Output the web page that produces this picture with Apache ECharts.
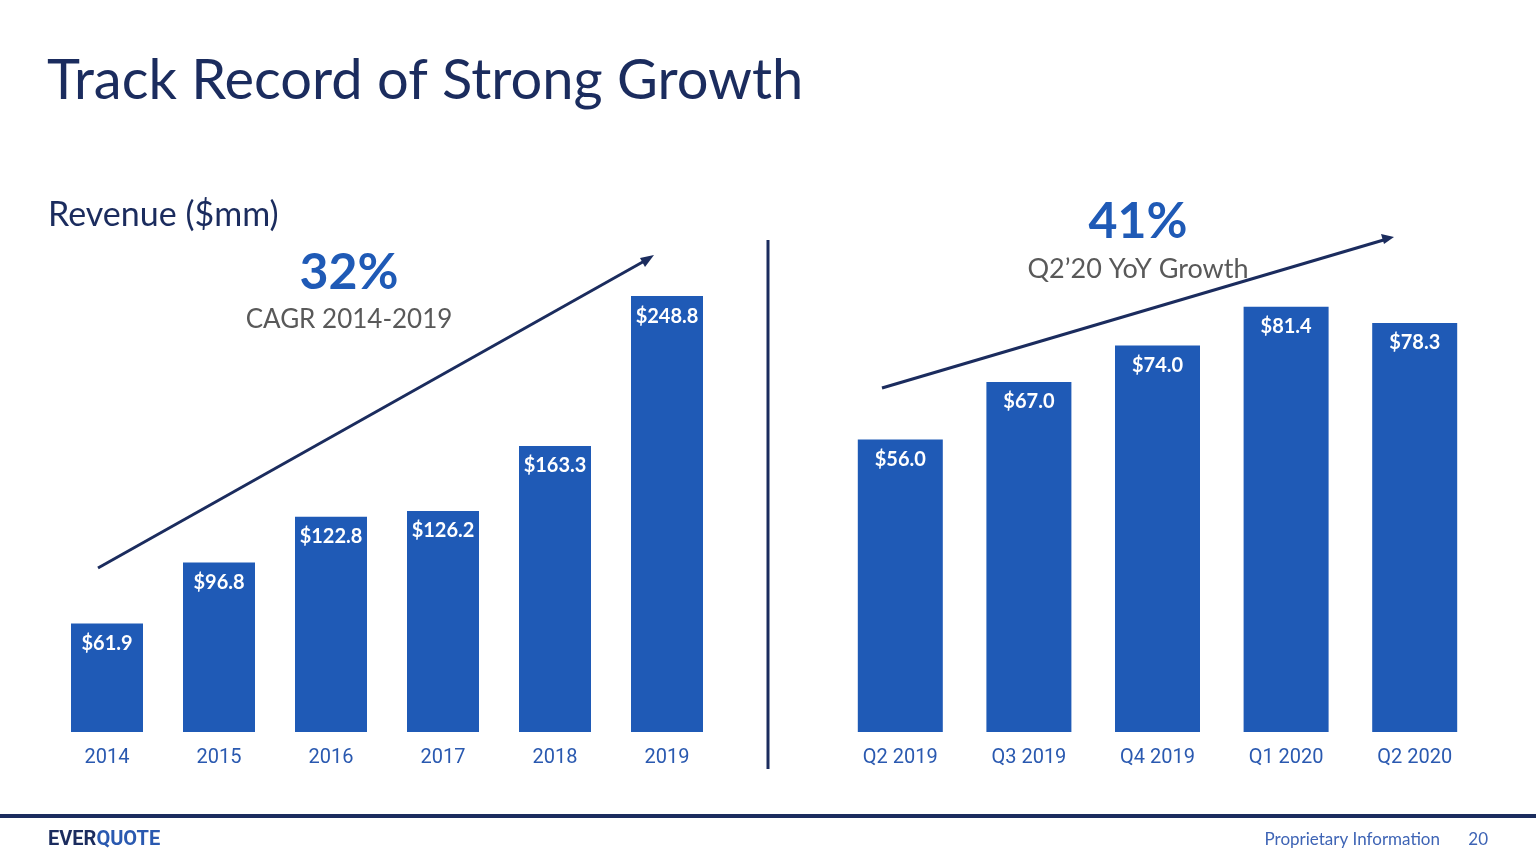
<!DOCTYPE html>
<html>
<head>
<meta charset="utf-8">
<script src="https://cdn.jsdelivr.net/npm/echarts@6/dist/echarts.min.js"></script>
<style>
  html, body { margin: 0; padding: 0; background: #fff; }
  #myChart { width: 1536px; height: 864px; }
</style>
</head>
<body>
<div id="myChart"></div>
<script>
// annual revenue ($mm)
var years = ['2014', '2015', '2016', '2017', '2018', '2019'];
var annualRevenue = [61.9, 96.8, 122.8, 126.2, 163.3, 248.8];
// quarterly revenue ($mm)
var quarters = ['Q2 2019', 'Q3 2019', 'Q4 2019', 'Q1 2020', 'Q2 2020'];
var quarterRevenue = [56.0, 67.0, 74.0, 81.4, 78.3];

var navy = '#1b2c5e';
var blue = '#1f5ab6';

var labelStyle = {
    show: true,
    position: 'insideTop',
    distance: 10,
    color: '#fff',
    fontFamily: 'Lato',
    fontWeight: 'bold',
    fontSize: 20,
    formatter: function (p) { return '$' + p.value.toFixed(1); }
};
var xLabel = { color: '#2a59b0', fontFamily: 'Roboto', fontSize: 20, margin: 16 };

var option = {
    animation: false,
    grid: [
        { left: 51, right: 813, top: 294, bottom: 132 },
        { left: 836, right: 57, top: 288, bottom: 132 }
    ],
    xAxis: [
        { type: 'category', gridIndex: 0, data: years, axisLine: { show: false }, axisTick: { show: false }, axisLabel: xLabel },
        { type: 'category', gridIndex: 1, data: quarters, axisLine: { show: false }, axisTick: { show: false }, axisLabel: xLabel }
    ],
    yAxis: [
        { type: 'value', gridIndex: 0, min: 0, max: 250, show: false, splitLine: { show: false } },
        { type: 'value', gridIndex: 1, min: 0, max: 85, show: false, splitLine: { show: false } }
    ],
    series: [
        { type: 'bar', xAxisIndex: 0, yAxisIndex: 0, data: annualRevenue, barWidth: 72, itemStyle: { color: blue }, label: labelStyle },
        { type: 'bar', xAxisIndex: 1, yAxisIndex: 1, data: quarterRevenue, barWidth: 85, itemStyle: { color: blue }, label: labelStyle }
    ],
    graphic: [
        { type: 'text', left: 47, top: 53, style: { text: 'Track Record of Strong Growth', fill: navy, font: '400 56px Lato' } },
        { type: 'text', left: 48, top: 198, style: { text: 'Revenue ($mm)', fill: navy, font: '400 34px Lato' } },
        { type: 'text', x: 349, y: 273, style: { text: '32%', fill: blue, font: 'bold 50px Lato', align: 'center', verticalAlign: 'middle' } },
        { type: 'text', x: 349, y: 320, style: { text: 'CAGR 2014-2019', fill: '#595959', font: '400 26px Lato', align: 'center', verticalAlign: 'middle' } },
        { type: 'text', x: 1138, y: 222, style: { text: '41%', fill: blue, font: 'bold 50px Lato', align: 'center', verticalAlign: 'middle' } },
        { type: 'text', x: 1138, y: 269, style: { text: 'Q2\u201920 YoY Growth', fill: '#595959', font: '400 27px Lato', align: 'center', verticalAlign: 'middle' } },
        // trend arrows
        { type: 'line', shape: { x1: 98, y1: 568, x2: 648, y2: 259 }, style: { stroke: navy, lineWidth: 3 } },
        { type: 'polygon', shape: { points: [[654, 255], [640, 258], [645, 267]] }, style: { fill: navy } },
        { type: 'line', shape: { x1: 882, y1: 388, x2: 1387, y2: 239 }, style: { stroke: navy, lineWidth: 3 } },
        { type: 'polygon', shape: { points: [[1394, 237], [1381, 234], [1384, 244]] }, style: { fill: navy } },
        // divider
        { type: 'line', shape: { x1: 768, y1: 240, x2: 768, y2: 769 }, style: { stroke: navy, lineWidth: 3 } },
        // footer
        { type: 'rect', shape: { x: 0, y: 814, width: 1536, height: 4 }, style: { fill: navy } },
        { type: 'text', left: 48, top: 830, style: { rich: { a: { fill: navy, font: 'bold 20px Roboto' }, b: { fill: '#2a59b0', font: 'bold 20px Roboto' } }, text: '{a|EVER}{b|QUOTE}' } },
        { type: 'text', right: 96, top: 831, style: { text: 'Proprietary Information', fill: '#3e64b5', font: '400 17px Lato' } },
        { type: 'text', right: 48, top: 831, style: { text: '20', fill: '#3e64b5', font: '400 17px Lato' } }
    ]
};

var myChart = echarts.init(document.getElementById('myChart'));
myChart.setOption(option);
</script>
</body>
</html>
